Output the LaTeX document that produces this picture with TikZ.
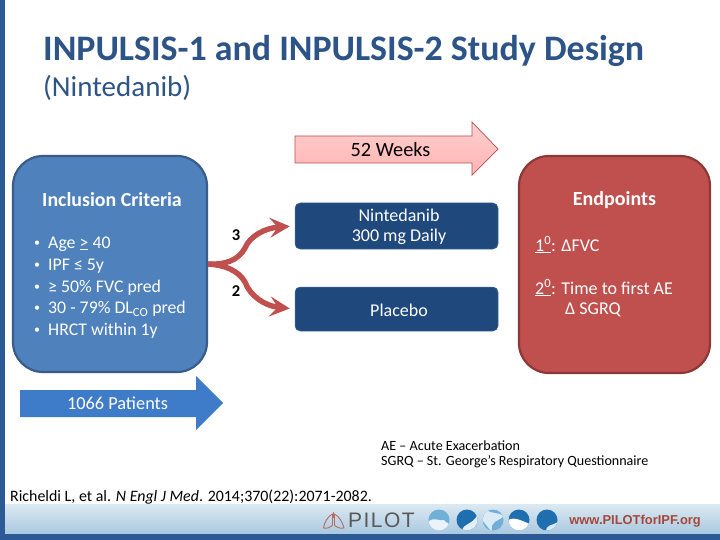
\documentclass[tikz,border=0pt]{standalone}
\usepackage{fontspec}
\setmainfont{Carlito}
\newfontfamily\logofont[LetterSpace=7]{Liberation Sans}
\newfontfamily\urlfont{Liberation Sans}
\usetikzlibrary{arrows.meta}
\definecolor{frameblue}{HTML}{2C5A94}
\definecolor{titleblue}{HTML}{2D5487}
\definecolor{inclfill}{HTML}{4F81BD}
\definecolor{incledge}{HTML}{385D8A}
\definecolor{armblue}{HTML}{1F497D}
\definecolor{endfill}{HTML}{C0504D}
\definecolor{endedge}{HTML}{8C3836}
\definecolor{patblue}{HTML}{3E7BC8}
\definecolor{pinktop}{HTML}{FFD0CF}
\definecolor{pinkbot}{HTML}{FFB4B2}
\definecolor{pinkedge}{HTML}{B5504E}
\definecolor{urlred}{HTML}{A5473A}
\definecolor{bandtop}{HTML}{DCE9F2}
\definecolor{bandbot}{HTML}{A9C8E0}
\definecolor{globeblue}{HTML}{1F6FAE}
\definecolor{globepale}{HTML}{6FAFD8}
\newcommand{\fs}[1]{\fontsize{#1}{#1}\selectfont}
\tikzset{
  x=1pt,y=-1pt,
  roundbox/.style={draw,line width=2.2pt,rounded corners=30pt},
  armbox/.style={fill=armblue,draw=armblue!80!white,line width=.5pt,rounded corners=5pt},
  lbl/.style={inner sep=0pt,text=white},
  dark/.style={inner sep=0pt,text=black},
  split/.style={draw=endfill,line width=5.4pt,-{Stealth[length=20pt,width=20pt,inset=8pt]},shorten >=5pt},
  globe/.style={circle,minimum size=21pt,inner sep=0pt,fill=#1},
}
\begin{document}
\begin{tikzpicture}
\useasboundingbox (0,0) rectangle (720,540);
\fill[white] (0,0) rectangle (720,540);
% frame and footer band
\shade[top color=bandtop,bottom color=bandbot] (0,504) rectangle (720,534);
\fill[frameblue] (0,0) rectangle (5,540);
\fill[frameblue] (0,534) rectangle (720,540);
% title
\node[anchor=base west,inner sep=0pt,text=titleblue] (title) at (43,61) {\fs{35.9}\bfseries INPULSIS-1 and INPULSIS-2 Study Design};
\node[anchor=base west,inner sep=0pt,text=titleblue] (subtitle) at (43,97) {\fs{29}(Nintedanib)};
% 52 weeks arrow
\draw[draw=pinkedge,line width=.7pt,top color=pinktop,bottom color=pinkbot]
  (295,136) -- (472,136) -- (472,122) -- (498,149) -- (472,175) -- (472,163) -- (295,163) -- cycle;
\node[dark] (weeks) at (390.5,149.5) {\fs{20.3}52 Weeks};
% inclusion box
\node[roundbox,draw=incledge,fill=inclfill,minimum width=194pt,minimum height=216pt,inner sep=0pt] (incl) at (110,264) {};
\node[lbl] (inclhead) at (112,199.5) {\fs{19.9}\bfseries Inclusion Criteria};
\foreach \n/\y/\t in {a/244/{Age \underline{>} 40},b/266/{IPF ≤ 5y},c/288/{≥ 50\% FVC pred},d/309/{30 - 79\% DL\textsubscript{CO} pred},e/331/{HRCT within 1y}}{
  \node[lbl,anchor=center] (bul\n) at (37,\y) {\fs{12}•};
  \node[lbl,anchor=west] (item\n) at (48,\y) {\fs{17.8}\t};
}
% arms
\node[armbox,minimum width=203pt,minimum height=46pt,inner sep=0pt] (nint) at (396.5,226) {};
\node[lbl] (nint1) at (399,215) {\fs{18}Nintedanib};
\node[lbl] (nint2) at (399,237) {\fs{18}300 mg Daily};
\node[armbox,minimum width=203pt,minimum height=44pt,inner sep=0pt] (plac) at (396.5,309) {};
\node[lbl] (plac1) at (399,310) {\fs{18}Placebo};
% split arrows
\coordinate (fork) at (incl.east);
\draw[split] (fork) .. controls (224,265) and (238,261) .. (245,248) .. controls (250,236) and (265,228) .. (nint.west);
\draw[split] (fork) .. controls (224,265) and (238,270) .. (245,282) .. controls (250,296) and (265,306) .. (plac.west);
\node[dark] (r3) at (236,235) {\fs{16.5}\bfseries 3};
\node[dark] (r2) at (236,291) {\fs{16.5}\bfseries 2};
% endpoints
\node[roundbox,draw=endedge,fill=endfill,minimum width=191pt,minimum height=217pt,inner sep=0pt] (endp) at (614.5,264.5) {};
\node[lbl] (endhead) at (614.5,200) {\fs{20}\bfseries Endpoints};
\node[lbl,anchor=west] (e1) at (535,245) {\fs{18}\underline{1\textsuperscript{0}}: ΔFVC};
\node[lbl,anchor=west] (e2) at (535,288) {\fs{18}\underline{2\textsuperscript{0}}: Time to first AE};
\node[lbl,anchor=west] (e3) at (565,310) {\fs{18}Δ SGRQ};
% patients arrow
\fill[patblue] (20,390) -- (196,390) -- (196,376) -- (223,403) -- (196,430) -- (196,417) -- (20,417) -- cycle;
\node[lbl] (pat) at (117.5,403.5) {\fs{18.3}1066 Patients};
% notes
\node[dark,anchor=west] (n1) at (381,446) {\fs{14.1}AE – Acute Exacerbation};
\node[dark,anchor=west] (n2) at (381,462) {\fs{14.1}SGRQ – St. George’s Respiratory Questionnaire};
\node[dark,anchor=west] (cite) at (10,497) {\fs{15.9}Richeldi L, et al. \textit{N Engl J Med}. 2014;370(22):2071-2082.};
% footer logo: lungs
\draw[urlred!80!white,line width=.9pt,line join=round]
  (333.5,512) -- (333.5,518)
  (332.5,514) .. controls (328,516) and (324,523) .. (323.5,528) .. controls (327,529) and (331,527) .. (332.5,525) -- cycle
  (334.5,514) .. controls (339,516) and (343,523) .. (344,528) .. controls (340,529) and (336,527) .. (334.5,525) -- cycle;
\node[inner sep=0pt,text=black!65,anchor=west] (pilot) at (348,520) {\logofont\fs{21}PILOT};
% footer logo: five globes
\foreach \n/\x/\c in {1/439/globepale,2/467/globeblue,3/493/globepale,4/519/globeblue,5/547/globeblue}{
  \node[globe=\c] (g\n) at (\x,520) {};
}
\begin{scope}
  \clip (g1.center) circle (10.5);
  \fill[white!85!globepale] (428,522) .. controls (434,516) and (440,522) .. (444,520) .. controls (447,526) and (450,518) .. (450,532) -- (428,532) -- cycle;
\end{scope}
\begin{scope}
  \clip (g2.center) circle (10.5);
  \fill[white!80!globepale] (462,531) .. controls (464,522) and (472,526) .. (478,514) -- (478,532) -- cycle;
\end{scope}
\begin{scope}
  \clip (g3.center) circle (10.5);
  \fill[white!75!globepale] (486,510) .. controls (492,514) and (498,512) .. (504,516) .. controls (498,522) and (490,520) .. (492,532) -- (482,520) -- cycle;
\end{scope}
\begin{scope}
  \clip (g4.center) circle (10.5);
  \fill[white] (508,520) .. controls (515,516) and (524,522) .. (530,524) -- (530,532) -- (508,532) -- cycle;
\end{scope}
\begin{scope}
  \clip (g5.center) circle (10.5);
  \fill[white!75!globepale] (546,532) .. controls (546,524) and (552,526) .. (558,522) -- (558,532) -- cycle;
\end{scope}
\node[inner sep=0pt,text=urlred,anchor=east] (url) at (701,521) {\urlfont\fs{12.9}\bfseries www.PILOTforIPF.org};
\end{tikzpicture}
\end{document}
